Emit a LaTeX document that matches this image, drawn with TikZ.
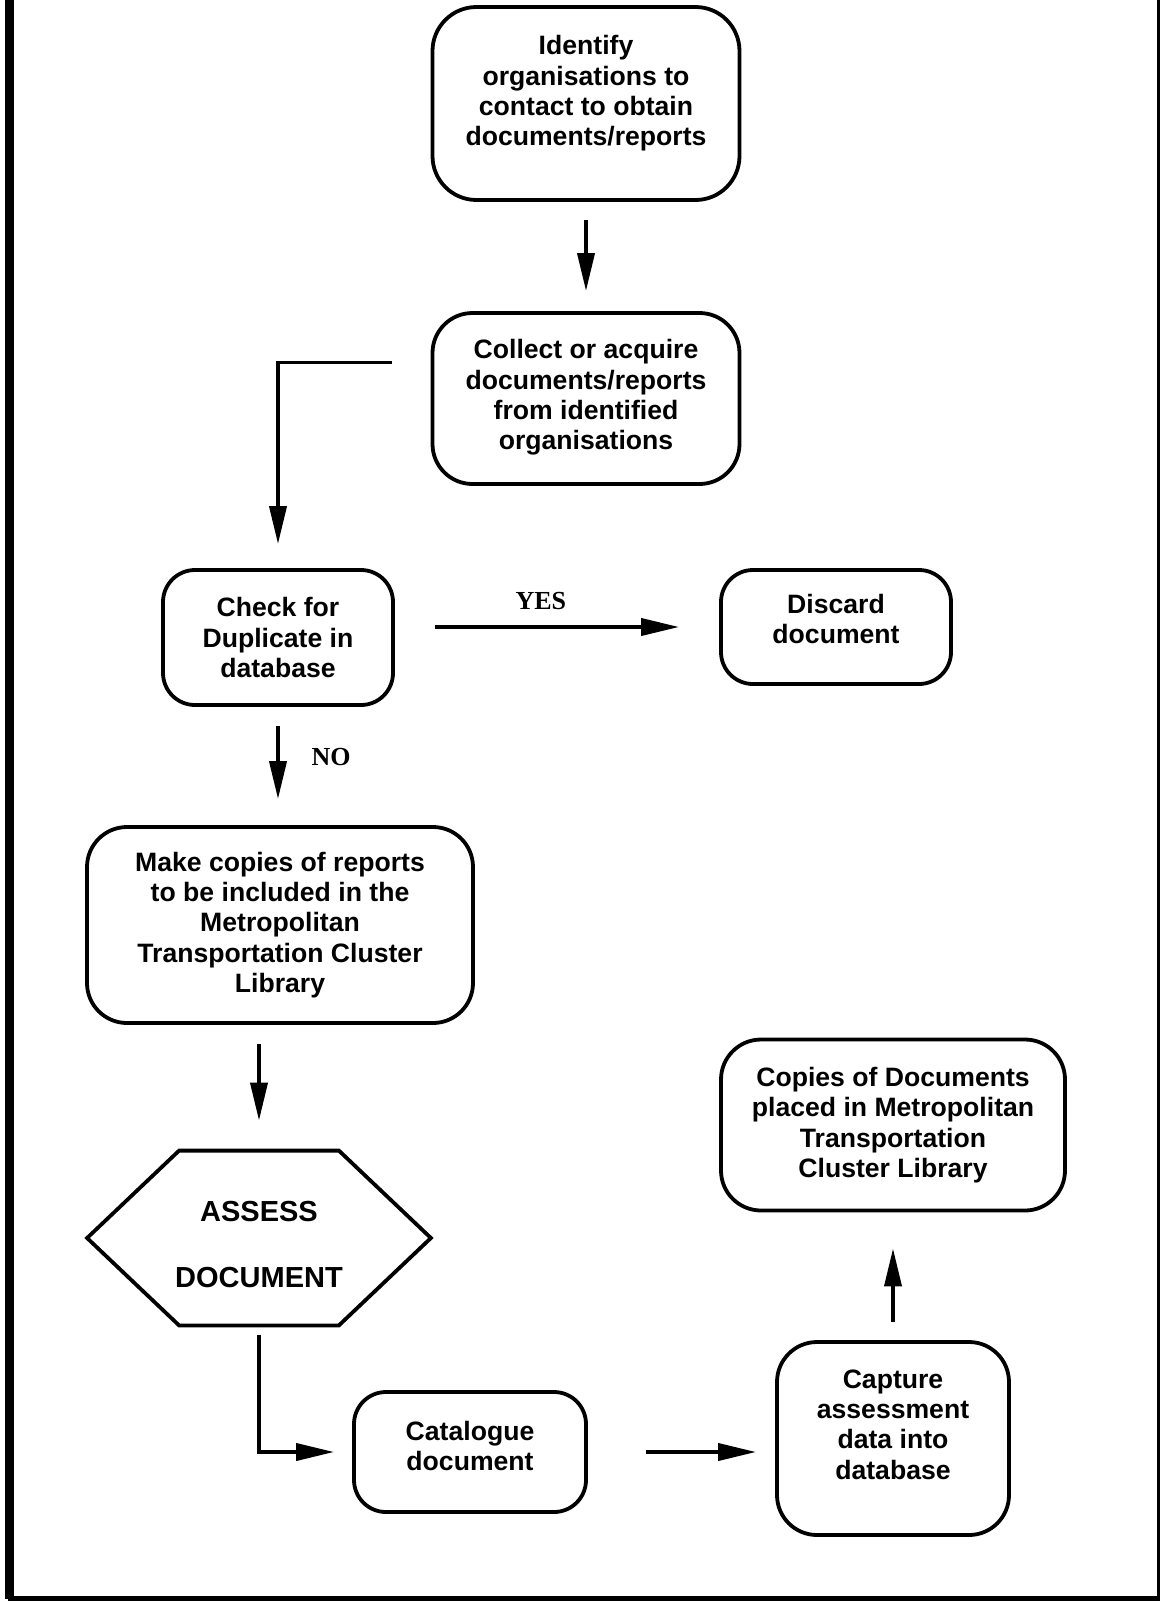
\documentclass[tikz,border=0pt]{standalone}
\usepackage{fontspec}
\setmainfont{Liberation Sans}
\newfontfamily\yesnofont{Liberation Serif}
\usetikzlibrary{arrows.meta}

\begin{document}
\begin{tikzpicture}[x=0.5pt, y=-0.5pt,
        box/.style={draw, line width=1.9pt, rounded corners=16pt, inner sep=0pt},
        txt/.style={align=center, inner sep=0pt, font=\fontsize{13.3}{15.2}\selectfont\bfseries},
        arr/.style={line width=1.9pt, -{Triangle[length=19pt, width=8.5pt]}},
        lbl/.style={inner sep=0pt, font=\fontsize{13}{15}\yesnofont\bfseries}]
    \useasboundingbox (0, 0) rectangle (1160, 1601);

    \draw[line width=4.5pt] (   9.5, 0) -- (   9.5, 1599);
    \draw[line width=2.5pt] (   8  , 1598.5) -- (1160, 1598.5);
    \draw[line width=1.5pt] (1158.5, 0) -- (1158.5, 1599);

    \node[box, minimum width=153.5pt, minimum height=96.5pt, rounded corners=22pt] (ident)     at (586, 103.5) {};
    \node[box, minimum width=153.5pt, minimum height=85.5pt, rounded corners=20pt] (collect)   at (586, 398.5) {};
    \node[box, minimum width=115pt,   minimum height=67.5pt                      ] (check)     at (278, 637.5) {};
    \node[box, minimum width=115pt,   minimum height=57pt                        ] (discard)   at (836, 627  ) {};
    \node[box, minimum width=193pt,   minimum height=98pt,   rounded corners=20pt] (copies)    at (280, 925  ) {};
    \node[     minimum width=171.5pt, minimum height=87pt,   inner sep=0pt       ] (assess)    at (259, 1238 ) {};
    \node[box, minimum width=116pt,   minimum height=60pt                        ] (catalogue) at (470, 1452 ) {};
    \node[box, minimum width=116pt,   minimum height=96.5pt, rounded corners=20pt] (capture)   at (893, 1438.5) {};
    \node[box, minimum width=172pt,   minimum height=85.5pt, rounded corners=20pt] (placed)    at (893, 1125 ) {};

    \draw[line width=1.9pt] (assess.west) -- ([xshift=46pt]assess.north west) -- ([xshift=-46pt]assess.north east)
        -- (assess.east) -- ([xshift=-46pt]assess.south east) -- ([xshift=46pt]assess.south west) -- cycle;

    \node[txt] (ident-t)     at ([yshift=5pt]ident.center)     {Identify\\organisations to\\contact to obtain\\documents/reports};
    \node[txt] (collect-t)   at ([yshift=0.5pt]collect.center) {Collect or acquire\\documents/reports\\from identified\\organisations};
    \node[txt] (check-t)     at (check.center)                 {Check for\\Duplicate in\\database};
    \node[txt] (discard-t)   at ([yshift=4pt]discard.center)   {Discard\\document};
    \node[txt] (copies-t)    at (copies.center)                {Make copies of reports\\to be included in the\\Metropolitan\\Transportation Cluster\\Library};
    \node[txt, font=\fontsize{14.5}{16}\selectfont\bfseries] (assess-t) at ([yshift=-3pt]assess.center) {ASSESS\\[17pt]DOCUMENT};
    \node[txt] (catalogue-t) at ([yshift=3pt]catalogue.center) {Catalogue\\document};
    \node[txt] (capture-t)   at ([yshift=7pt]capture.center)   {Capture\\assessment\\data into\\database};
    \node[txt] (placed-t)    at (placed.center)                {Copies of Documents\\placed in Metropolitan\\Transportation\\Cluster Library};

    \draw[arr, shorten <=9pt, shorten >=10pt] (ident) -- (collect);
    \draw[arr] ([xshift=-19.5pt, yshift=18pt]collect.west) -| ([yshift=12pt]check.north);
    \draw[arr, shorten <=20pt, shorten >=20pt] (check.east |- discard.west) -- (discard.west)
        node[lbl, pos=0.45, yshift=13pt] (yes) {YES};
    \draw[arr, shorten <=9.5pt, shorten >=13pt] (check.south) -- (check.south |- copies.north)
        node[lbl, pos=0.42, xshift=26.5pt] (no) {NO};
    \draw[arr, shorten <=9.5pt, shorten >=15pt] (copies.south -| assess.north) -- (assess.north);
    \draw[arr, shorten <=5pt, shorten >=9pt] (assess.south) |- (catalogue.west);
    \draw[arr, shorten <=29pt, shorten >=9.5pt] (catalogue.east) -- (catalogue.east -| capture.west);
    \draw[arr, shorten <=9pt, shorten >=18pt] (capture.north) -- (placed.south);
\end{tikzpicture}
\end{document}
